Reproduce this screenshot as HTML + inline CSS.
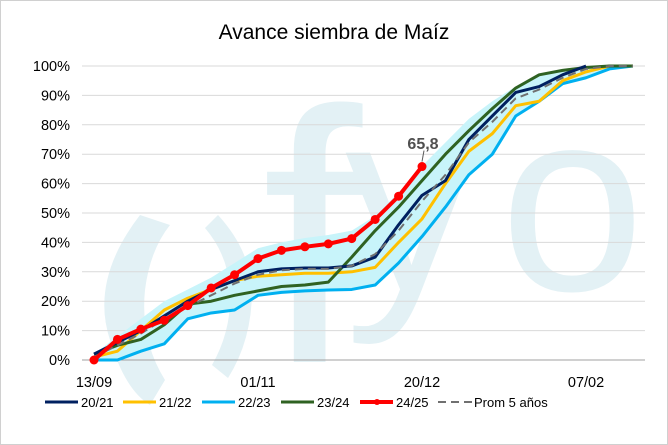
<!DOCTYPE html>
<html><head><meta charset="utf-8"><style>
html,body{margin:0;padding:0;background:#fff}
svg{display:block}
text{font-family:"Liberation Sans","DejaVu Sans",sans-serif;stroke:none}
</style></head><body>
<svg id="s" width="668" height="445" viewBox="0 0 668 445" xmlns="http://www.w3.org/2000/svg">
<rect x="0.5" y="0.5" width="667" height="444" fill="#fff" stroke="#d0d0d0"/>
<text x="334" y="39" text-anchor="middle" font-size="21" fill="#000">Avance siembra de Maíz</text>
<g id="wm" fill="#e3f1f5">
<path d="M140 215 Q90 280 110 340 Q125 390 150 405 L165 380 Q140 340 145 290 Q150 250 170 225 Z"/>
<path d="M218 215 Q250 250 252 290 Q252 340 228 378 L212 365 Q232 330 230 290 Q228 255 205 228 Z"/>
<text x="262" y="362" font-size="360" fill="#e3f1f5">f</text>
<text x="345" y="290" font-size="260" fill="#e3f1f5">y</text>
<text x="500" y="290" font-size="260" fill="#e3f1f5">o</text>
</g>
<g id="grid"></g>
<g id="plot"></g>
<g id="legend" font-size="13"></g>
</svg>
<script>
const NS="http://www.w3.org/2000/svg";
const x0=94,dx=23.43,y0=360,dy=2.94;
const X=i=>x0+i*dx, Y=v=>y0-v*dy;
function el(t,a,p){const e=document.createElementNS(NS,t);for(const k in a)e.setAttribute(k,a[k]);(p||document.getElementById('plot')).appendChild(e);return e;}
const grid=document.getElementById('grid');
for(let i=0;i<=10;i++){const y=Y(i*10);el('line',{x1:82,x2:645,y1:y,y2:y,stroke:i==0?'#a0a0a0':'#d9d9d9','stroke-width':1},grid);
 const t=el('text',{x:70,y:y+5,'text-anchor':'end','font-size':'14.5',fill:'#000'},grid);t.textContent=(i*10)+'%';}
[['13/09',0],['01/11',7],['20/12',14],['07/02',21]].forEach(([l,i])=>{const t=el('text',{x:X(i),y:387,'text-anchor':'middle','font-size':'14.5',fill:'#000'},grid);t.textContent=l;});
const navy=[2,6,10,15,20,24,27,30,31,31.3,31.3,32,35,46,56,61,75,83,91,93,97,100];
const yel=[1,3,10,17,21,24,27,28.5,29,29.5,29.5,30,31.5,40,48,60,71,77,86.5,88,95,98,100,100];
const lb=[0,0,3,5.5,14,16,17,22,23,23.5,23.8,24,25.5,33,42,52,63,70,83,88,94,96,99,100];
const gr=[2,5,7,12,19,20,22,23.5,25,25.5,26.5,35,44,52,61,70,78,85.5,92.5,97,98.5,99.5,100,100];
const pr=[1,5,9,14,18,22,26,29,30.5,31,31,32,36,44,54,63,74,81,89,92,96,99,100,100];
const red=[0,7,10.5,13.5,18.5,24.5,29,34.5,37.3,38.5,39.5,41.3,47.8,55.7,65.8];
const bandTop=[2,8,14,20,24,28,33,38,40,41.5,42.5,44,49,57,66,74,82,88,93,97,99,100,100,100];
let up=[],lo=[];
for(let i=0;i<24;i++){const vs=[navy[i]??100,yel[i],lb[i],gr[i]];let mn=Math.min(...vs);
 up.push([X(i),Y(bandTop[i])]);lo.push([X(i),Y(mn)]);}
el('polygon',{points:up.concat(lo.reverse()).map(p=>p.join(',')).join(' '),fill:'#c8f4fa'});
function line(d,c,w,extra){el('polyline',Object.assign({points:d.map((v,i)=>X(i)+','+Y(v)).join(' '),fill:'none',stroke:c,'stroke-width':w,'stroke-linejoin':'round'},extra||{}));}
line(lb,'#00b0f0',3);line(yel,'#ffc000',3);line(gr,'#2f6222',3);line(navy,'#002060',3);
line(pr,'#707070',2,{'stroke-dasharray':'8,5'});
line(red,'#ff0000',4);
red.forEach((v,i)=>el('circle',{cx:X(i),cy:Y(v),r:4.5,fill:'#ff0000'}));
el('line',{x1:422,x2:424,y1:Y(65.8)-5,y2:Y(65.8)-16,stroke:'#595959'});
const lbl=el('text',{x:423,y:149,'text-anchor':'middle','font-size':'16','font-weight':'bold',fill:'#505050','font-family':'"Liberation Serif",serif'});lbl.textContent='65,8';
const lg=document.getElementById('legend');
const items=[[45,'#002060','20/21'],[123,'#ffc000','21/22'],[202,'#00b0f0','22/23'],[281,'#2f6222','23/24'],[360,'#ff0000','24/25']];
items.forEach(([x,c,t])=>{el('line',{x1:x,x2:x+33,y1:402,y2:402,stroke:c,'stroke-width':c=='#ff0000'?4:3},lg);
 if(c=='#ff0000')el('circle',{cx:x+17,cy:402,r:3,fill:c},lg);
 const tt=el('text',{x:x+36,y:407,fill:'#000'},lg);tt.textContent=t;});
el('line',{x1:438,x2:473,y1:402,y2:402,stroke:'#707070','stroke-width':2,'stroke-dasharray':'8,5'},lg);
const pt=el('text',{x:474,y:407,fill:'#000'},lg);pt.textContent='Prom 5 años';
</script>
</body></html>
